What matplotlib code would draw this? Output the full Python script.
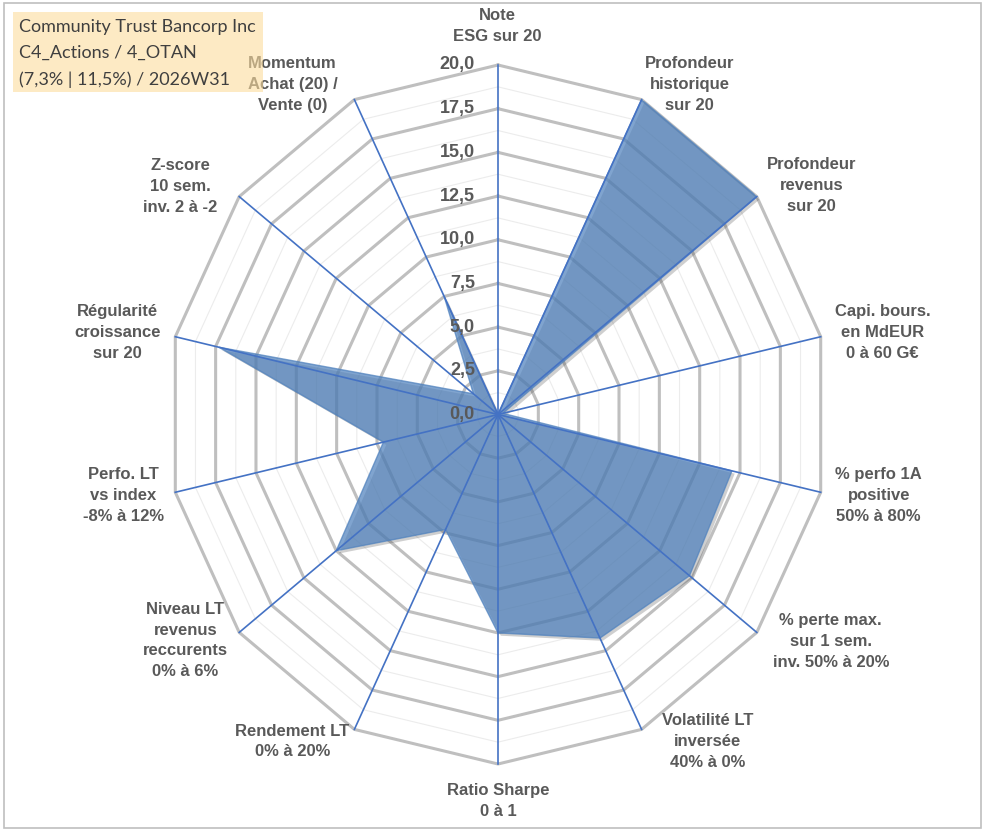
import numpy as np
import matplotlib
matplotlib.use("Agg")
import matplotlib.pyplot as plt
import matplotlib.patheffects as pe
from matplotlib.patches import Rectangle

# ---------------- data ----------------
categories = [
    "Note\nESG sur 20",
    "Profondeur\nhistorique\nsur 20",
    "Profondeur\nrevenus\nsur 20",
    "Capi. bours.\nen MdEUR\n0 à 60 G€",
    "% perfo 1A\npositive\n50% à 80%",
    "% perte max.\nsur 1 sem.\ninv. 50% à 20%",
    "Volatilité LT\ninversée\n40% à 0%",
    "Ratio Sharpe\n0 à 1",
    "Rendement LT\n0% à 20%",
    "Niveau LT\nrevenus\nreccurents\n0% à 6%",
    "Perfo. LT\nvs index\n-8% à 12%",
    "Régularité\ncroissance\nsur 20",
    "Z-score\n10 sem.\ninv. 2 à -2",
    "Momentum\nAchat (20) /\nVente (0)",
]
values = [0, 20, 20, 0.3, 14.5, 14.8, 14.2, 12.5, 7.3, 12.5, 7.1, 17.3, 1.9, 7.5]
major_ticks = [0, 2.5, 5, 7.5, 10, 12.5, 15, 17.5, 20]
tick_labels = ["0,0", "2,5", "5,0", "7,5", "10,0", "12,5", "15,0", "17,5", "20,0"]
minor_ticks = [1.25, 3.75, 6.25, 8.75, 11.25, 13.75, 16.25, 18.75]
title_lines = ["Community Trust Bancorp Inc", "C4_Actions / 4_OTAN", "(7,3% | 11,5%) / 2026W31"]

# label offsets (pixels) from the outer vertex of each axis
label_offsets = [(-1, 39), (48, 15), (55, 11), (62, 4), (58, -3), (74, -9), (66, -12),
                 (0, -37), (-62, -12), (-54, -8), (-52, -3), (-58, 4), (-59, 10), (-62, 15)]

# ---------------- figure ----------------
W, H = 991, 830
fig = plt.figure(figsize=(W / 100, H / 100), dpi=100)
fig.patch.set_facecolor("white")

cx, cy, rx, ry = 498, 414.5, 331, 349.5
ax = fig.add_axes([(cx - rx) / W, (H - cy - ry) / H, 2 * rx / W, 2 * ry / H], projection="polar")
ax.set_aspect("auto")
ax.set_theta_zero_location("N")
ax.set_theta_direction(-1)
ax.set_ylim(0, 20)
ax.grid(False)
ax.set_xticks([])
ax.set_yticks([])
ax.spines["polar"].set_visible(False)
ax.patch.set_alpha(0)

n = len(categories)
angles = np.arange(n) * 2 * np.pi / n
ang_c = np.append(angles, angles[0])

# gridlines (polygons)
for r in minor_ticks:
    ax.plot(ang_c, [r] * (n + 1), color="#ECECEC", lw=0.8, zorder=1, clip_on=False)
for r in major_ticks[1:]:
    ax.plot(ang_c, [r] * (n + 1), color="#BFBFBF", lw=2.2, zorder=2, clip_on=False,
            solid_joinstyle="miter")

# data fill
vals_c = np.append(values, values[0])
poly = ax.fill(ang_c, vals_c, facecolor="#4F81BD", alpha=0.72, zorder=3,
               edgecolor="#4F81BD", lw=1.0)
for p in poly:
    p.set_path_effects([pe.SimplePatchShadow(offset=(2, -2), shadow_rgbFace="#404040", alpha=0.25),
                        pe.Normal()])

# spokes
for a in angles:
    ax.plot([a, a], [0, 20], color="#4472C4", lw=1.2, zorder=4, clip_on=False)

# radial tick labels
for r, t in zip(major_ticks, tick_labels):
    ax.annotate(t, xy=(0, r), xytext=(-23, 0), textcoords="offset pixels",
                ha="right", va="center", fontsize=13, fontweight="bold",
                color="#595959", family="Liberation Sans", zorder=5)

# category labels
for a, lab, off in zip(angles, categories, label_offsets):
    ax.annotate(lab, xy=(a, 20), xytext=off, textcoords="offset pixels",
                ha="center", va="center", multialignment="center",
                fontsize=12, fontweight="bold", color="#595959",
                family="Liberation Sans", linespacing=1.48, zorder=5,
                annotation_clip=False)

# title box (semi-transparent, drawn on top)
fig.patches.append(Rectangle((12.5 / W, 1 - 91.7 / H), 250.5 / W, 80 / H,
                             transform=fig.transFigure, facecolor="#FCDC9D",
                             alpha=0.6, edgecolor="none", zorder=10))
for i, line in enumerate(title_lines):
    fig.text(19 / W, 1 - (26.7 + 26.3 * i) / H, line, ha="left", va="center",
             fontsize=13, color="#3F3F3F", family="Lato", zorder=11)

# outer frame
fig.patches.append(Rectangle((4 / W, 2 / H), 977 / W, 825 / H, transform=fig.transFigure,
                             facecolor="none", edgecolor="#BFBFBF", lw=1.2, zorder=12))

fig.savefig("out.png", dpi=100)
